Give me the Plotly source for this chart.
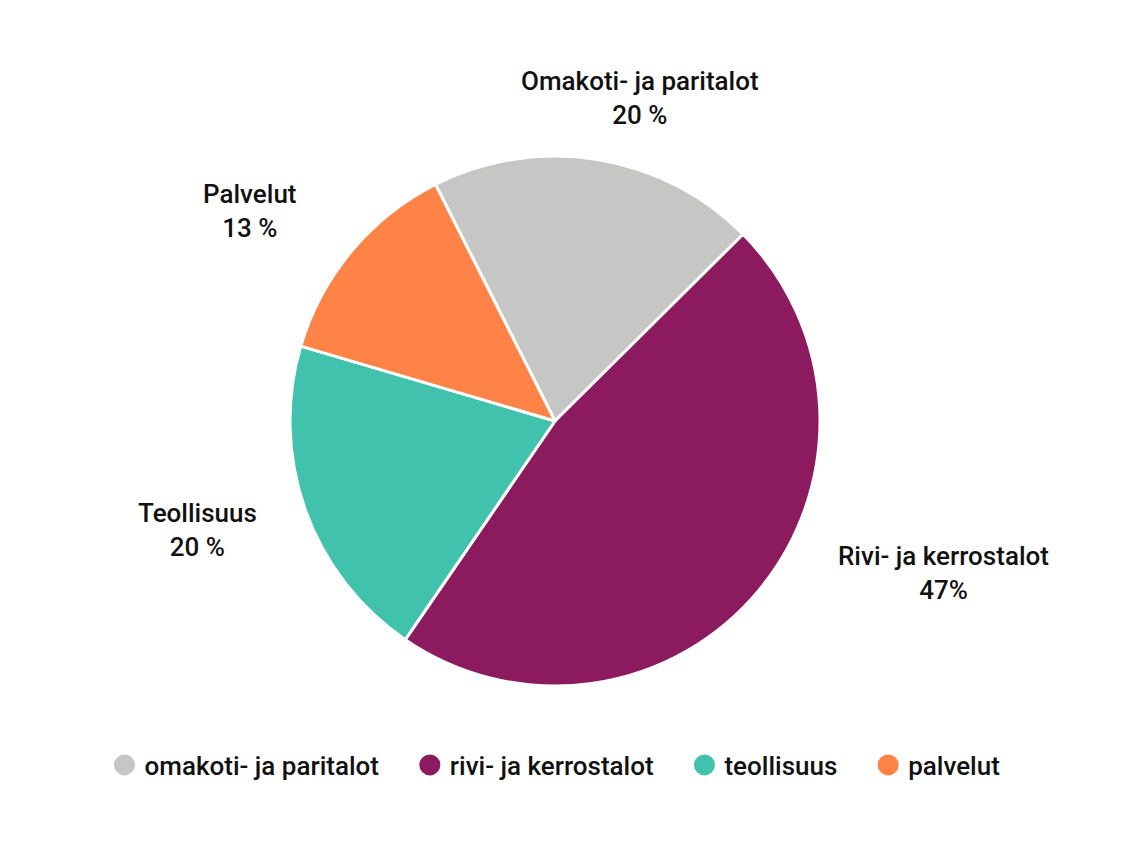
import plotly.graph_objects as go

# Data
categories = ["omakoti- ja paritalot", "rivi- ja kerrostalot", "teollisuus", "palvelut"]
slice_labels = ["Omakoti- ja paritalot", "Rivi- ja kerrostalot", "Teollisuus", "Palvelut"]
value_texts = ["20 %", "47%", "20 %", "13 %"]
values = [20, 47, 20, 13]
colors = ["#c6c7c4", "#8b1a5f", "#40c2ad", "#ff8246"]

W, H = 1140, 846
OFF = 8  # page body margin offset
FONT = "Roboto"
FS = 26

fig = go.Figure()

cx, cy, R = 555 - OFF, 421 - OFF, 265
fig.add_trace(go.Pie(
    labels=categories,
    values=values,
    sort=False,
    direction="clockwise",
    rotation=-26.8,
    marker=dict(colors=colors, line=dict(color="white", width=3)),
    textinfo="none",
    hoverinfo="label+percent",
    showlegend=False,
    domain=dict(x=[(cx - R) / W, (cx + R) / W],
                y=[(H - cy - R) / H, (H - cy + R) / H]),
))

# Legend entries (circle markers)
pad = "\u00a0\u00a0\u00a0\u00a0"
for i, (name, col) in enumerate(zip(categories, colors)):
    fig.add_trace(go.Scatter(
        x=[None], y=[None], mode="markers",
        name=name + (pad if i < len(categories) - 1 else ""),
        marker=dict(symbol="circle", size=16, color=col, line=dict(color=col, width=5)),
        hoverinfo="skip",
    ))

# Outside labels (positions in page pixels from top-left)
label_pos = [(640, 98), (943, 573), (197, 530), (250, 211)]
for lab, vt, (px, py) in zip(slice_labels, value_texts, label_pos):
    fig.add_annotation(
        x=(px - OFF) / W, y=1 - (py - OFF) / H, xref="paper", yref="paper",
        text=f"{lab}<br>{vt}", showarrow=False,
        xanchor="center", yanchor="middle", align="center",
        font=dict(family=FONT, size=FS, color="#111111", weight=500),
    )

fig.update_layout(
    width=W, height=H,
    margin=dict(l=0, r=0, t=0, b=0),
    paper_bgcolor="white", plot_bgcolor="white",
    xaxis=dict(visible=False), yaxis=dict(visible=False),
    font=dict(family=FONT, size=FS, color="#111111"),
    legend=dict(orientation="h", x=(555 - OFF) / W, xanchor="center",
                y=1 - (765 - OFF) / H, yanchor="middle",
                font=dict(family=FONT, size=FS, color="#111111", weight=500),
                itemsizing="trace", traceorder="normal"),
)

fig.write_html("out.html")
